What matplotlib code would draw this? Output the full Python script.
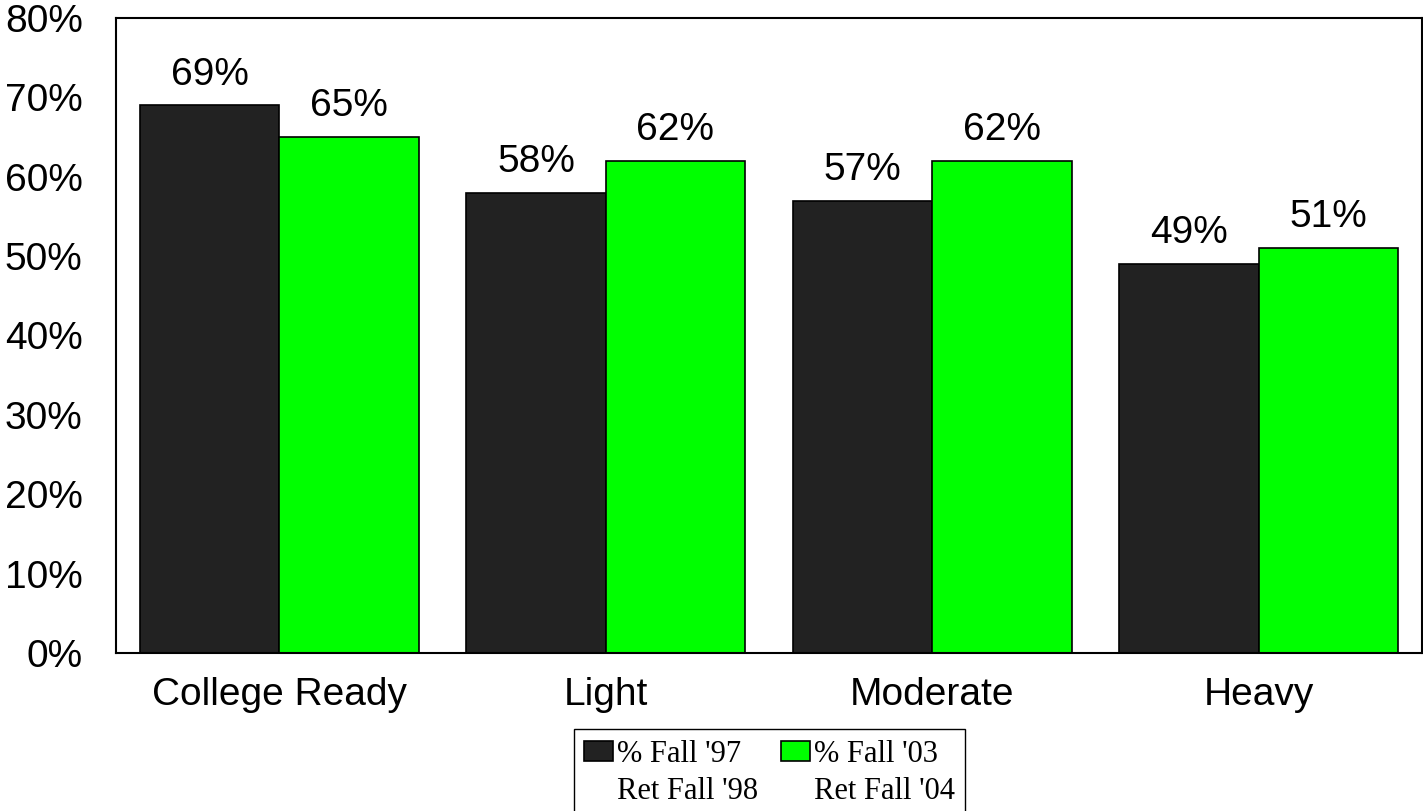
import matplotlib.pyplot as plt
from matplotlib.patches import Rectangle
import numpy as np

categories = ["College Ready", "Light", "Moderate", "Heavy"]
fall97 = [69, 58, 57, 49]
fall03 = [65, 62, 62, 51]
labels = ["% Fall '97", "Ret Fall '98", "% Fall '03", "Ret Fall '04"]

fig = plt.figure(figsize=(14.23, 8.11), dpi=100)
ax = fig.add_axes([116/1423, 1 - 653/811, 1 - 116/1423 - 0.0007, (653 - 18)/811])

x = np.arange(len(categories))
w = 0.427
b1 = ax.bar(x - w/2, fall97, w, color="#222222", edgecolor="black", linewidth=1.2)
b2 = ax.bar(x + w/2, fall03, w, color="#00ff00", edgecolor="black", linewidth=1.2)

for bars, vals in ((b1, fall97), (b2, fall03)):
    for r, v in zip(bars, vals):
        ax.text(r.get_x() + r.get_width()/2, v + 1.6, f"{v}%", ha="center", va="bottom",
                fontsize=28, family="Liberation Sans")

ax.set_xlim(-0.5, 3.5)
ax.set_ylim(0, 80)
ax.set_yticks(range(0, 81, 10))
ax.set_yticklabels([f"{t}%" for t in range(0, 81, 10)], family="Liberation Sans", fontsize=28)
ax.set_xticks(x)
ax.set_xticklabels(categories, family="Liberation Sans", fontsize=28)
ax.tick_params(length=0)
ax.tick_params(axis="y", pad=24)
ax.tick_params(axis="x", pad=17)
for s in ax.spines.values():
    s.set_linewidth(1.5)

# legend: first column dark, second green; second text line gets an empty handle
blank = Rectangle((0, 0), 1, 1, fill=False, edgecolor="none", linewidth=0)
h1 = Rectangle((0, 0), 1, 1, facecolor="#222222", edgecolor="black", linewidth=1.2)
h2 = Rectangle((0, 0), 1, 1, facecolor="#00ff00", edgecolor="black", linewidth=1.2)
fig.legend([h1, blank, h2, blank], labels, loc="upper center",
           bbox_to_anchor=(769.5/1423, 1 - 729/811), ncol=2,
           prop={"family": "Liberation Serif", "size": 22}, frameon=True, fancybox=False,
           edgecolor="black", framealpha=1, handlelength=0.95, handleheight=0.65,
           handletextpad=0.12, columnspacing=0.75, borderpad=0.35, borderaxespad=0,
           labelspacing=0.28)

fig.savefig("out.png", dpi=100)
